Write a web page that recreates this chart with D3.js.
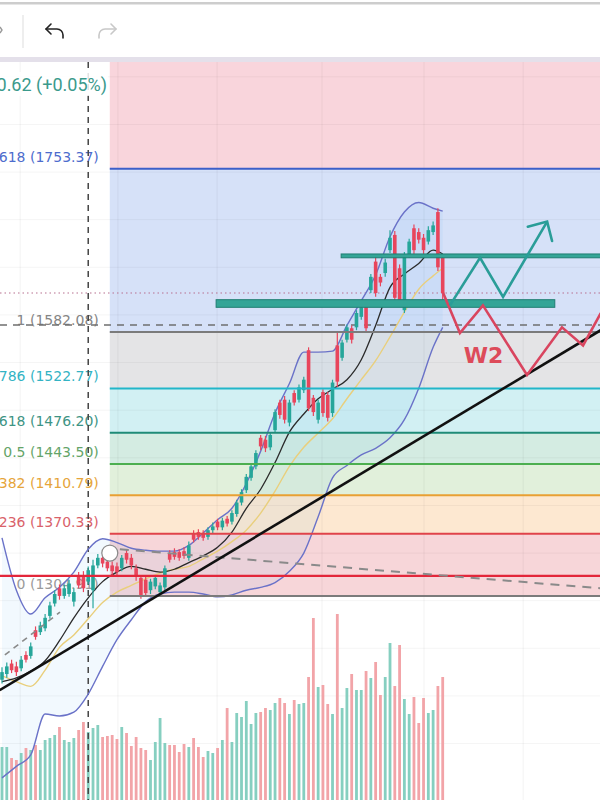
<!DOCTYPE html>
<html><head><meta charset="utf-8">
<script src="https://cdnjs.cloudflare.com/ajax/libs/d3/7.8.5/d3.min.js"></script>
<style>html,body{margin:0;padding:0;background:#fff;overflow:hidden}svg{display:block}</style>
</head><body><svg id="c" width="600" height="800"></svg>
<script>
// ---------- DATA ----------
// candles: [open, high, low, close]
const candles = [
[1217,1230,1213,1225],[1223,1235,1219,1231],[1234,1238,1224,1227],[1231,1236,1221,1225],[1229,1242,1226,1238],
[1243,1247,1235,1238],[1242,1256,1239,1252],[1269,1273,1259,1262],[1267,1278,1264,1274],[1271,1286,1268,1282],
[1284,1299,1281,1295],[1297,1311,1294,1307],[1313,1317,1301,1305],[1305,1317,1302,1313],[1307,1322,1304,1318],
[1299,1313,1294,1309],[1326,1330,1313,1316],[1325,1331,1309,1313],[1320,1336,1317,1332],[1311,1343,1292,1337],
[1337,1349,1334,1345],[1345,1349,1335,1339],[1341,1345,1331,1334],[1337,1341,1327,1331],[1336,1340,1326,1330],
[1334,1348,1331,1345],[1350,1354,1339,1343],[1345,1349,1333,1337],[1334,1338,1321,1325],[1324,1327,1302,1306],
[1322,1325,1304,1308],[1311,1323,1307,1320],[1315,1327,1312,1324],[1309,1319,1304,1316],[1314,1337,1310,1334],
[1350,1353,1340,1343],[1351,1355,1343,1346],[1351,1354,1342,1345],[1352,1356,1344,1347],[1345,1362,1342,1358],
[1370,1374,1361,1364],[1372,1375,1364,1367],[1371,1374,1363,1366],[1367,1377,1364,1374],[1374,1382,1371,1378],
[1383,1386,1374,1377],[1377,1387,1374,1384],[1386,1389,1378,1381],[1383,1395,1380,1392],[1391,1406,1388,1403],
[1403,1417,1400,1414],[1416,1433,1413,1430],[1429,1444,1426,1441],[1441,1458,1438,1455],[1471,1474,1458,1462],
[1469,1473,1456,1460],[1461,1477,1458,1474],[1479,1501,1476,1498],[1508,1511,1491,1495],[1511,1515,1486,1490],
[1487,1511,1483,1508],[1518,1521,1505,1508],[1511,1527,1508,1524],[1521,1535,1518,1532],[1563,1566,1499,1502],
[1513,1516,1494,1498],[1490,1511,1486,1508],[1519,1522,1493,1497],[1516,1519,1488,1492],[1497,1532,1493,1529],
[1568,1581,1524,1530],[1555,1574,1552,1571],[1574,1590,1571,1587],[1586,1589,1570,1574],[1587,1605,1584,1602],
[1598,1611,1595,1608],[1610,1616,1582,1586],[1626,1643,1623,1640],[1656,1661,1619,1623],[1640,1643,1630,1634],
[1644,1659,1640,1655],[1668,1689,1665,1681],[1684,1688,1613,1618],[1649,1653,1609,1613],[1605,1666,1602,1663],
[1663,1680,1660,1677],[1691,1695,1664,1668],[1687,1691,1675,1679],[1681,1685,1664,1668],[1677,1693,1674,1689],
[1687,1698,1684,1694],[1708,1712,1646,1650],[1660,1663,1615,1623]
];
const volumes = [53,53,42,40,47,52,50,55,50,60,62,65,73,60,58,62,70,78,68,72,75,63,64,65,61,73,67,54,63,52,
50,40,58,82,57,55,55,48,56,53,62,53,43,49,47,52,60,92,58,87,83,99,76,87,88,92,90,97,102,97,
86,100,96,97,123,182,113,115,96,86,186,92,112,126,110,110,129,122,138,105,123,157,114,155,101,86,103,77,102,87,
90,114,123];
// indicator samples (candle index -> value)
const bandIdx = [0,3,6,9,12,15,18,21,24,27,30,33,36,39,42,45,48,51,54,57,60,63,66,69,72,75,78,81,84,87,90,92];
const bbUpper = [1366,1311,1286,1303,1314,1330,1354,1365,1361,1355,1353,1352,1352,1358,1371,1385,1397,1423,1457,1497,1528,1561,1561,1562,1589,1615,1642,1682,1708,1718,1712,1709];
const bbMiddle = [1215,1219,1226,1237,1258,1282,1303,1320,1330,1336,1333,1330,1333,1340,1347,1356,1372,1397,1417,1445,1477,1496,1512,1522,1532,1553,1589,1629,1643,1654,1668,1664];
const bbLower = [1114,1126,1138,1181,1179,1183,1202,1231,1259,1280,1299,1307,1309,1309,1307,1304,1306,1311,1314,1319,1331,1350,1388,1429,1442,1453,1460,1471,1490,1523,1566,1587];
const ma50 = [1221,1215,1210,1227,1251,1264,1281,1298,1309,1316,1323,1329,1333,1336,1344,1352,1362,1374,1392,1415,1441,1461,1476,1491,1512,1532,1552,1577,1603,1627,1641,1649];
// Fibonacci retracement
const fibLevels = ["0","0.236","0.382","0.5","0.618","0.786","1","1.618","2.618"];
const fibPrices = [1304.91,1370.33,1410.79,1443.50,1476.20,1522.77,1582.08,1753.37,2030.50];
const fibStartIdx = 22.5;
// other drawings (candle index, price)
const redLevel = 1326;
const dashedLevel = 1589.5;
const cursorIdx = 18;
const anchorPoint = [22.5, 1350];
const trendBlack = [[-0.5,1206],[125,1584]];
const trendGray = [[24.6,1354],[125,1313]];
const trendGrayLeft = [[0.6,1243],[12.1,1288]];
const zoneUpper = [[70.8,1664],[125,1660]];
const zoneLower = [[44.7,1616],[115.4,1608]];
const tealPath = [[93.5,1610],[99.8,1660],[104.6,1619],[113.8,1698]];
const redPath = [[92.1,1623],[95.6,1581],[100.4,1610],[109.6,1537],[116.9,1587],[121.3,1568],[125,1602]];
const timeGrid = [3.8,24.2,44.9,66.8,88.1,108.8];
const priceGrid = [1150,1200,1250,1300,1350,1400,1450,1500,1550,1600,1650,1700,1750,1800,1850];
const legendText = "+0.62 (+0.05%)";
const waveLabel = "W2";
const waveLabelPos = [100.5, 1550];

// ---------- STYLE ----------
const W = 600, H = 800, TOP = 62;
const fibLineColors = ["#7b7b7b","#e0434a","#e8a033","#4caf50","#1f8b77","#22b6c9","#7b7b7b","#3d5fc9","#e0407a"];
const fibLabelColors = ["#9a9a9a","#d9626a","#e6a53a","#64a468","#3e9484","#33b3c4","#858585","#4d6ccd","#d9607a"];
const fibFills = ["#f7d6d9","#fde8d1","#e1f0db","#d4ece2","#d2f0f3","#e4e4e6","#d6e1f8","#f9d5dc"];
const UP = "#26a69a", DOWN = "#e8455c";

const svg = d3.select("#c");
const x = d3.scaleLinear().domain([0, 92]).range([2, 442.7]);
const y = d3.scaleLinear().domain([1304.91, 1582.08]).range([596, 332]);
const vy = d3.scaleLinear().domain([0, 190]).range([H, 610]);

// toolbar
svg.append("rect").attr("width", W).attr("height", H).attr("fill", "#fff");
svg.append("rect").attr("x",0).attr("y",2).attr("width",W).attr("height",2.5).attr("fill","#cdcdcd");
svg.append("line").attr("x1",23).attr("x2",23).attr("y1",15).attr("y2",48).attr("stroke","#e3e3e3").attr("stroke-width",1.2);
svg.append("path").attr("d","M0,27 L2,30 L0,33").attr("fill","none").attr("stroke","#999").attr("stroke-width",1.4);
function arrowIcon(cx, cy, dir, color){
  const gg = svg.append("g").attr("transform",`translate(${cx},${cy}) scale(${dir},1)`);
  gg.append("path").attr("d","M-4,-9 L-9,-4 L-4,1").attr("fill","none").attr("stroke",color).attr("stroke-width",1.6).attr("stroke-linecap","round").attr("stroke-linejoin","round");
  gg.append("path").attr("d","M-9,-4 H2 A6,6 0 0 1 8,2 V5").attr("fill","none").attr("stroke",color).attr("stroke-width",1.6).attr("stroke-linecap","round");
}
arrowIcon(55, 33, 1, "#222");
arrowIcon(107, 33, -1, "#c8c8c8");
svg.append("rect").attr("x",0).attr("y",57).attr("width",W).attr("height",5).attr("fill","#e4e0ea");

svg.append("defs").append("clipPath").attr("id","clip").append("rect").attr("x",0).attr("y",TOP).attr("width",W).attr("height",H-TOP);
const g = svg.append("g").attr("clip-path","url(#clip)");

// fib fills
const fx0 = x(fibStartIdx);
for (let i = 0; i < fibPrices.length - 1; i++) {
  g.append("rect").attr("x", fx0).attr("width", W - fx0)
    .attr("y", y(fibPrices[i+1])).attr("height", y(fibPrices[i]) - y(fibPrices[i+1]))
    .attr("fill", fibFills[i]);
}
// grid
g.selectAll(".vg").data(timeGrid).join("line").attr("x1",d=>x(d)).attr("x2",d=>x(d)).attr("y1",TOP).attr("y2",H)
  .attr("stroke","rgba(0,0,0,0.05)").attr("stroke-width",1);
g.selectAll(".hg").data(priceGrid).join("line").attr("x1",0).attr("x2",W).attr("y1",d=>y(d)).attr("y2",d=>y(d))
  .attr("stroke","rgba(0,0,0,0.045)").attr("stroke-width",1);

// bollinger fill
const bandPts = bandIdx.map((d,i)=>({i:d,u:bbUpper[i],m:bbMiddle[i],l:bbLower[i],s:ma50[i]}));
g.append("path").datum(bandPts)
  .attr("d", d3.area().x(d=>x(d.i)).y0(d=>y(d.l)).y1(d=>y(d.u)).curve(d3.curveMonotoneX))
  .attr("fill","rgba(33,150,243,0.06)");

// volume
g.selectAll(".vol").data(volumes).join("rect")
  .attr("x",(d,i)=>x(i)-1.4).attr("width",2.8)
  .attr("y",d=>vy(d)).attr("height",d=>H - vy(d))
  .attr("fill",(d,i)=> candles[i][3] >= candles[i][0] ? "#86cfc0" : "#f2a4a8");

// fib labels
g.selectAll(".fl").data(fibPrices).join("text")
  .attr("x", fx0 - 11).attr("y", d => y(d) - 7)
  .attr("text-anchor","end").attr("font-family","DejaVu Sans, Verdana, sans-serif").attr("font-size",14)
  .attr("fill",(d,i)=>fibLabelColors[i])
  .text((d,i)=>`${fibLevels[i]} (${d.toFixed(2)})`);

// cursor dashed vertical line
g.append("line").attr("x1",x(cursorIdx)).attr("x2",x(cursorIdx)).attr("y1",TOP).attr("y2",H)
  .attr("stroke","#444").attr("stroke-width",1.5).attr("stroke-dasharray","6,5");

// last price dotted line & dashed level
const lastClose = candles[candles.length-1][3];
g.append("line").attr("x1",0).attr("x2",W).attr("y1",y(lastClose)).attr("y2",y(lastClose))
  .attr("stroke","#b8708f").attr("stroke-width",1.2).attr("stroke-dasharray","1.5,3");
g.append("line").attr("x1",0).attr("x2",W).attr("y1",y(dashedLevel)).attr("y2",y(dashedLevel))
  .attr("stroke","#6f6f6f").attr("stroke-width",1.6).attr("stroke-dasharray","7,6");

// indicator lines
const ln = key => d3.line().x(d=>x(d.i)).y(d=>y(d[key])).curve(d3.curveMonotoneX);
g.append("path").datum(bandPts).attr("d",ln("u")).attr("fill","none").attr("stroke","#6a72c8").attr("stroke-width",1.4);
g.append("path").datum(bandPts).attr("d",ln("l")).attr("fill","none").attr("stroke","#6a72c8").attr("stroke-width",1.4);
g.append("path").datum(bandPts).attr("d",ln("s")).attr("fill","none").attr("stroke","#e9cf7c").attr("stroke-width",1.4);
g.append("path").datum(bandPts).attr("d",ln("m")).attr("fill","none").attr("stroke","#2b2b2b").attr("stroke-width",1.3);

// candles
const cg = g.selectAll(".cd").data(candles).join("g");
cg.append("line").attr("x1",(d,i)=>x(i)).attr("x2",(d,i)=>x(i)).attr("y1",d=>y(d[1])).attr("y2",d=>y(d[2]))
  .attr("stroke",d=>d[3]>=d[0]?UP:DOWN).attr("stroke-width",1.2);
cg.append("rect").attr("x",(d,i)=>x(i)-1.8).attr("width",3.6)
  .attr("y",d=>y(Math.max(d[0],d[3]))).attr("height",d=>Math.max(1,Math.abs(y(d[0])-y(d[3]))))
  .attr("fill",d=>d[3]>=d[0]?UP:DOWN);

// fib lines
g.selectAll(".fln").data(fibPrices).join("line")
  .attr("x1",fx0).attr("x2",W).attr("y1",d=>y(d)).attr("y2",d=>y(d))
  .attr("stroke",(d,i)=>fibLineColors[i]).attr("stroke-width",2);

// red horizontal level
g.append("line").attr("x1",0).attr("x2",W).attr("y1",y(redLevel)).attr("y2",y(redLevel))
  .attr("stroke","#e3263a").attr("stroke-width",2.4);

// zones
[zoneUpper, zoneLower].forEach(z=>{
  g.append("rect").attr("x",x(z[0][0])).attr("width",x(z[1][0])-x(z[0][0]))
    .attr("y",y(z[0][1])).attr("height",y(z[1][1])-y(z[0][1]))
    .attr("fill","#34a597").attr("stroke","#1f7e72").attr("stroke-width",1);
});

// trend lines
const pl = d3.line().x(d=>x(d[0])).y(d=>y(d[1]));
g.append("path").datum(trendGray).attr("d",pl).attr("stroke","#8a8a8a").attr("stroke-width",2).attr("stroke-dasharray","9,7").attr("fill","none");
g.append("path").datum(trendGrayLeft).attr("d",pl).attr("stroke","#8a8a8a").attr("stroke-width",1.6).attr("stroke-dasharray","6,5").attr("fill","none");
g.append("path").datum(trendBlack).attr("d",pl).attr("stroke","#111").attr("stroke-width",2.6).attr("fill","none");

// projected paths
g.append("path").datum(redPath).attr("d",pl).attr("stroke","#d9455f").attr("stroke-width",2.6).attr("fill","none").attr("stroke-linejoin","miter");
g.append("path").datum(tealPath).attr("d",pl).attr("stroke","#2a9d98").attr("stroke-width",2.6).attr("fill","none").attr("stroke-linejoin","miter");
{
  const a = tealPath[tealPath.length-2], b = tealPath[tealPath.length-1];
  const tx = x(b[0]), ty = y(b[1]);
  const ang = Math.atan2(ty - y(a[1]), tx - x(a[0])) + Math.PI;
  const L = 20, sp = 0.78;
  const p1 = [tx + L*Math.cos(ang+sp), ty + L*Math.sin(ang+sp)];
  const p2 = [tx + L*Math.cos(ang-sp), ty + L*Math.sin(ang-sp)];
  g.append("path").attr("d",`M${p1[0]},${p1[1]} L${tx},${ty} L${p2[0]},${p2[1]}`)
    .attr("stroke","#2a9d98").attr("stroke-width",2.6).attr("fill","none").attr("stroke-linecap","round");
}

// anchor circle
g.append("circle").attr("cx",x(anchorPoint[0])).attr("cy",y(anchorPoint[1])).attr("r",8)
  .attr("fill","#fff").attr("stroke","#8a8a8a").attr("stroke-width",1.2);

// wave label
g.append("text").attr("x",x(waveLabelPos[0])).attr("y",y(waveLabelPos[1])).attr("text-anchor","middle")
  .attr("font-family","DejaVu Sans, sans-serif").attr("font-weight","bold").attr("font-size",22)
  .attr("fill","#dd4b5a").text(waveLabel);

// legend text
g.append("rect").attr("x",0).attr("y",72).attr("width",108).attr("height",24).attr("fill","rgba(255,255,255,0.85)");
g.append("text").attr("x",107).attr("y",91).attr("text-anchor","end")
  .attr("font-family","Roboto, sans-serif").attr("font-size",18).attr("fill","#3b9a8c").text(legendText);
</script></body></html>
